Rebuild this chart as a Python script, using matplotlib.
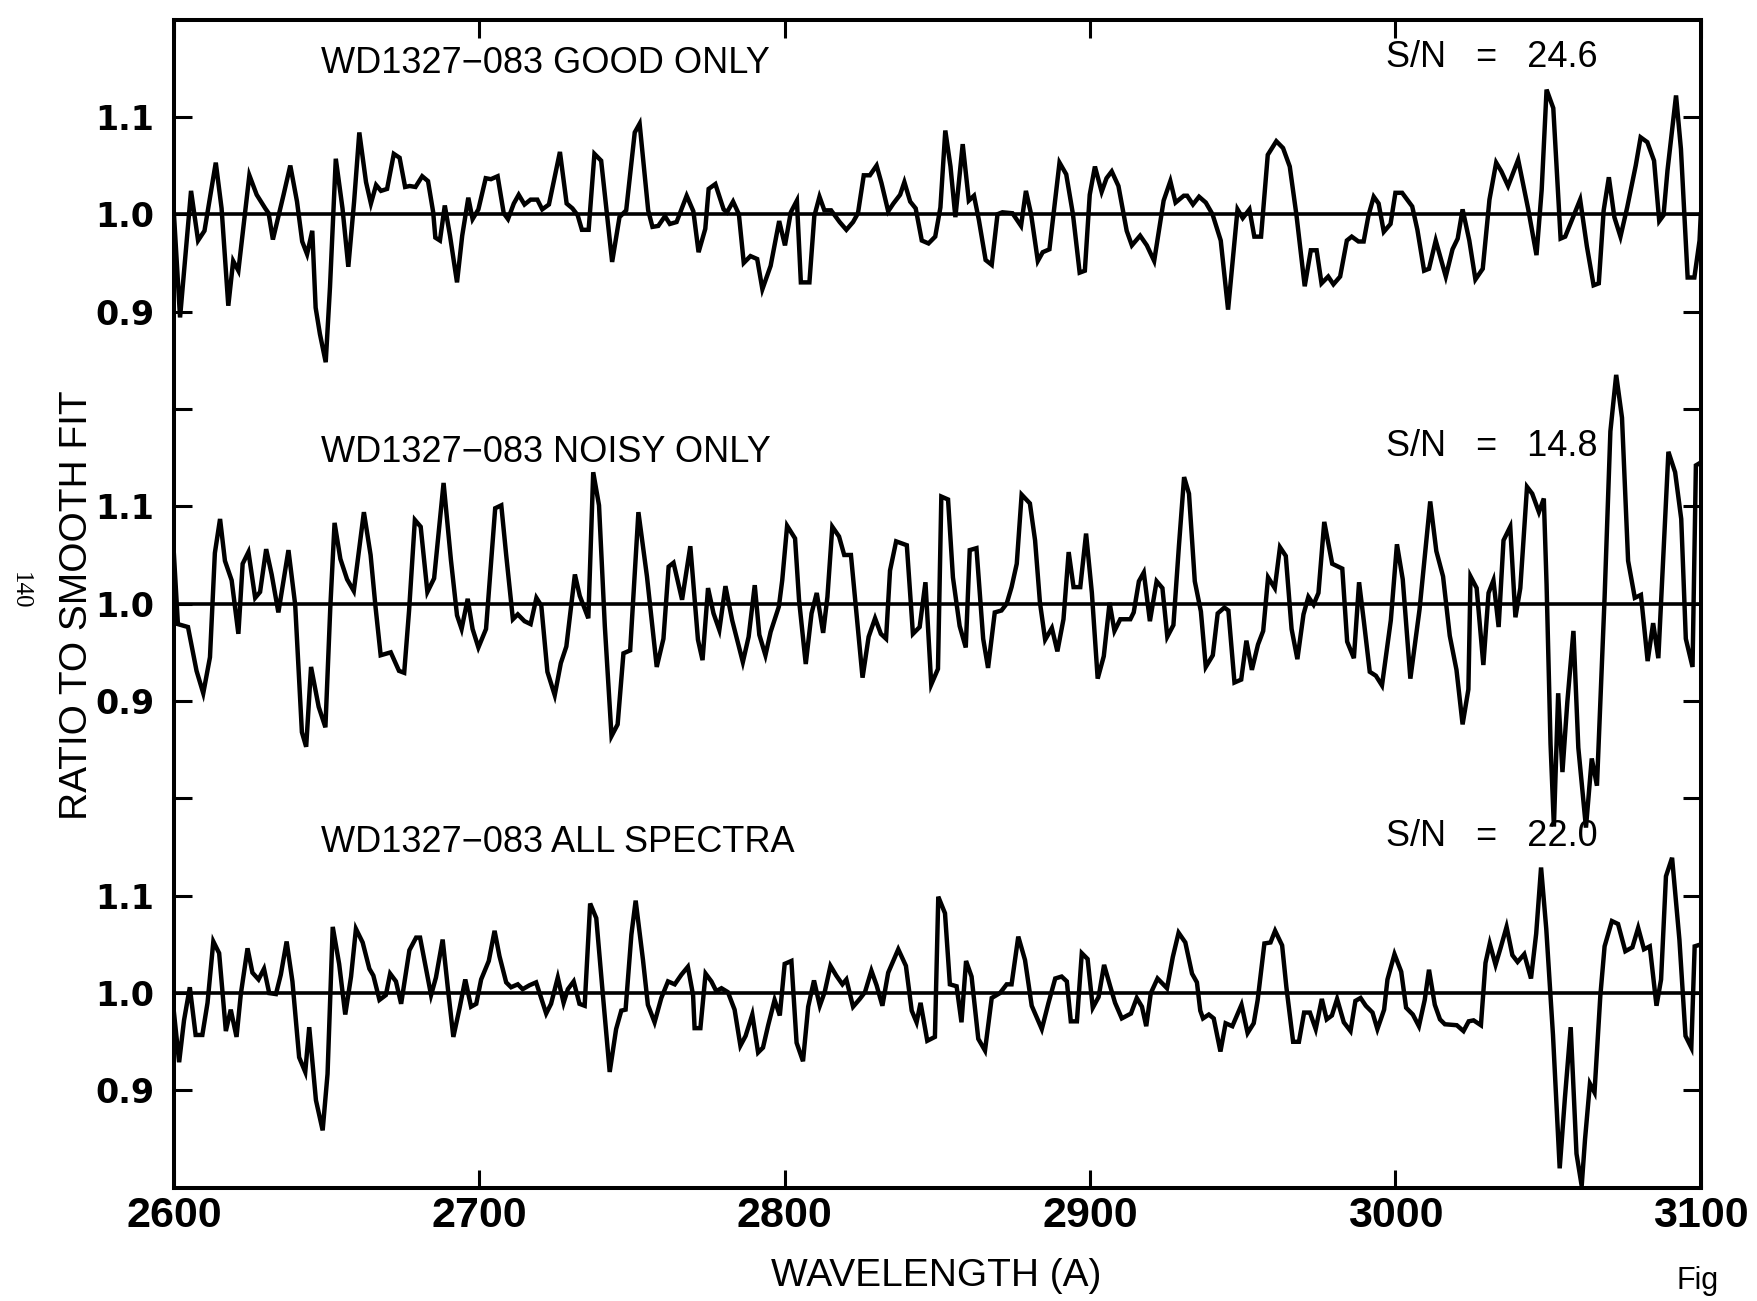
import matplotlib
matplotlib.use("Agg")
import matplotlib.pyplot as plt

# ---------------------------------------------------------------------------
#  Dados (comprimento de onda em A, razão ao ajuste suave)
# ---------------------------------------------------------------------------
wl_good = [
    2600.0, 2602.0, 2605.6, 2607.9, 2610.0, 2613.7, 2615.6, 2617.8, 2619.4, 2621.1,
    2624.7, 2627.1, 2629.9, 2631.0, 2632.4, 2634.3, 2635.9, 2638.1, 2640.3, 2642.0,
    2643.6, 2645.3, 2646.4, 2647.8, 2649.7, 2651.1, 2653.0, 2655.2, 2657.1, 2659.0,
    2660.7, 2662.9, 2664.5, 2666.2, 2667.8, 2669.8, 2672.0, 2673.9, 2675.7, 2677.2,
    2679.1, 2681.3, 2683.2, 2684.9, 2685.6, 2687.1, 2688.7, 2690.4, 2692.7, 2694.4,
    2696.4, 2697.8, 2699.7, 2702.1, 2703.8, 2706.0, 2708.0, 2709.4, 2711.3, 2712.9,
    2714.8, 2716.8, 2719.0, 2720.6, 2722.8, 2726.4, 2728.6, 2730.5, 2732.2, 2733.6,
    2735.8, 2737.7, 2739.9, 2743.5, 2745.9, 2748.1, 2750.9, 2752.5, 2755.3, 2756.7,
    2758.6, 2760.8, 2762.4, 2764.6, 2767.9, 2770.1, 2771.8,
    2774.0, 2775.1, 2777.3, 2780.0, 2781.1, 2783.1, 2785.0, 2786.6, 2788.8, 2791.0,
    2792.7, 2795.4, 2798.2, 2800.1, 2802.0, 2804.0, 2805.3, 2808.1, 2809.7, 2811.4,
    2813.0, 2815.2, 2818.0, 2820.2, 2822.4, 2824.0, 2825.9, 2827.9, 2830.1, 2831.7,
    2833.9, 2835.6, 2837.8, 2839.2, 2841.1, 2842.9, 2844.9, 2847.1, 2849.3, 2851.0,
    2852.6, 2854.3, 2855.9, 2858.3, 2860.3, 2862.0, 2863.6, 2865.8, 2867.8, 2869.7,
    2871.3, 2874.6, 2877.4, 2879.0, 2880.7, 2882.9, 2884.5, 2886.7, 2890.0, 2892.2,
    2894.4, 2896.6, 2898.3, 2899.9, 2901.6, 2903.8, 2905.4, 2907.1, 2909.3, 2912.0,
    2913.7, 2916.4, 2918.6, 2921.0, 2924.1, 2926.3, 2928.0, 2930.7, 2931.8, 2933.7,
    2935.7, 2937.9, 2940.1,
    2942.8, 2945.2, 2948.3, 2950.0, 2952.2, 2953.8, 2956.0, 2958.2, 2961.0, 2963.2,
    2965.4, 2967.6, 2970.3, 2972.3, 2974.2, 2975.8, 2978.0, 2979.7, 2981.9, 2984.1,
    2985.7, 2987.9, 2989.6, 2991.2, 2992.9, 2994.5, 2996.2, 2998.4, 3000.0, 3002.2,
    3005.5, 3007.2, 3009.4, 3011.0, 3013.2, 3016.5, 3018.7, 3020.4, 3022.0, 3024.2,
    3026.2, 3028.6, 3030.8, 3033.0, 3034.7, 3036.9, 3040.2, 3043.5, 3046.2, 3047.9,
    3049.5, 3051.7, 3054.1, 3055.6, 3057.8, 3060.5, 3062.7, 3064.9, 3066.6, 3068.2,
    3069.9, 3071.7, 3073.7, 3075.9, 3078.7, 3080.3, 3082.5, 3084.7, 3086.4, 3087.8,
    3089.1, 3091.9, 3093.5, 3095.7, 3097.9, 3099.6, 3100.0,
]
ratio_good = [
    1.000, 0.894, 1.024, 0.973, 0.983, 1.053, 1.006, 0.906, 0.952, 0.942,
    1.040, 1.020, 1.006, 1.001, 0.974, 0.999, 1.020, 1.050, 1.013, 0.972,
    0.959, 0.983, 0.904, 0.877, 0.848, 0.925, 1.057, 1.006, 0.946, 1.013,
    1.084, 1.033, 1.011, 1.030, 1.024, 1.026, 1.062, 1.058, 1.028, 1.029,
    1.028, 1.039, 1.034, 1.002, 0.976, 0.973, 1.009, 0.978, 0.930, 0.978,
    1.017, 0.995, 1.005, 1.037, 1.036, 1.039, 1.001, 0.995, 1.011, 1.020,
    1.010, 1.015, 1.015, 1.005, 1.010, 1.064, 1.011, 1.006, 0.999, 0.984,
    0.984, 1.062, 1.055, 0.951, 0.997, 1.004, 1.084, 1.093, 1.004, 0.987,
    0.988, 0.998, 0.990, 0.992, 1.019, 1.003, 0.961,
    0.985, 1.026, 1.031, 1.005, 1.002, 1.013, 1.000, 0.950, 0.957, 0.954,
    0.923, 0.947, 0.993, 0.968, 1.002, 1.014, 0.930, 0.930, 0.998, 1.018,
    1.004, 1.004, 0.992, 0.984, 0.992, 1.001, 1.040, 1.040, 1.050, 1.032,
    1.003, 1.011, 1.020, 1.033, 1.013, 1.006, 0.973, 0.970, 0.977, 1.007,
    1.086, 1.049, 0.997, 1.072, 1.014, 1.019, 0.994, 0.953, 0.948, 1.000,
    1.002, 1.001, 0.988, 1.024, 1.000, 0.952, 0.961, 0.964, 1.053, 1.041,
    1.000, 0.940, 0.942, 1.020, 1.049, 1.023, 1.037, 1.044, 1.029, 0.983,
    0.968, 0.978, 0.968, 0.952, 1.014, 1.034, 1.012, 1.019, 1.019, 1.010,
    1.018, 1.012, 1.000,
    0.973, 0.902, 1.005, 0.996, 1.005, 0.977, 0.977, 1.061, 1.075, 1.068,
    1.049, 0.999, 0.926, 0.963, 0.963, 0.929, 0.936, 0.928, 0.936, 0.973,
    0.977, 0.972, 0.972, 0.999, 1.018, 1.011, 0.982, 0.990, 1.022, 1.022,
    1.008, 0.984, 0.942, 0.944, 0.973, 0.936, 0.964, 0.975, 1.005, 0.973,
    0.933, 0.944, 1.015, 1.053, 1.044, 1.029, 1.056, 1.005, 0.958, 1.025,
    1.128, 1.109, 0.975, 0.977, 0.994, 1.015, 0.967, 0.927, 0.929, 1.004,
    1.038, 0.997, 0.977, 1.007, 1.050, 1.079, 1.074, 1.055, 0.993, 0.999,
    1.045, 1.122, 1.067, 0.935, 0.935, 0.973, 1.000,
]

wl_noisy = [
    2600.0, 2601.3, 2604.6, 2607.4, 2609.6, 2611.8, 2613.4, 2615.1, 2616.7, 2618.9,
    2621.1, 2622.5, 2624.4, 2626.6, 2628.2, 2630.2, 2632.0, 2634.2, 2637.5, 2639.7,
    2641.9, 2643.3, 2644.9, 2647.4, 2649.6, 2651.2, 2652.6, 2654.5, 2656.7, 2658.9,
    2662.2, 2664.4, 2666.0, 2667.7, 2671.0, 2673.7, 2675.4, 2677.0, 2678.9, 2680.8,
    2683.0, 2685.2, 2688.3, 2690.7, 2692.7, 2694.2, 2696.2, 2697.8, 2699.7, 2702.2,
    2705.2, 2707.2, 2708.8, 2711.0, 2712.6, 2714.8, 2716.8, 2718.7, 2720.3, 2722.3,
    2724.7, 2726.7, 2728.5, 2731.3, 2732.9, 2735.7, 2737.3, 2739.2, 2741.1, 2743.3,
    2745.3, 2747.2, 2749.4, 2752.1, 2754.9, 2758.1, 2760.3, 2762.0, 2763.6, 2766.4,
    2769.1, 2770.8,
    2771.6, 2773.1, 2774.9, 2776.7, 2778.6, 2780.6, 2782.8, 2786.3, 2788.2, 2790.2,
    2791.7, 2793.7, 2795.4, 2798.1, 2799.2, 2800.8, 2803.4, 2804.7, 2806.9, 2808.8,
    2810.5, 2812.6, 2814.0, 2815.6, 2817.8, 2819.5, 2821.7, 2823.3, 2825.5, 2827.5,
    2829.6, 2831.5, 2833.2, 2834.5, 2836.5, 2840.0, 2842.0, 2844.2, 2846.1, 2848.0,
    2850.2, 2851.3, 2853.5, 2855.1, 2857.3, 2859.3, 2860.6, 2862.8, 2865.0, 2866.6,
    2868.8, 2871.0, 2872.7, 2874.3, 2876.0, 2877.6, 2880.3, 2882.0, 2883.6, 2885.3,
    2887.5, 2889.3, 2891.3, 2893.0, 2894.6, 2896.8, 2898.7, 2900.6, 2902.5, 2904.5,
    2906.4, 2908.0, 2909.9, 2913.2, 2914.3, 2916.0, 2917.6, 2919.6, 2921.8, 2923.7,
    2925.3, 2927.3, 2929.1, 2930.8, 2932.4, 2934.3, 2936.3, 2937.9,
    2940.2, 2941.8, 2944.0, 2945.3, 2947.3, 2949.5, 2951.2, 2953.0, 2955.0, 2956.7,
    2958.3, 2960.5, 2962.2, 2964.1, 2966.0, 2967.9, 2969.9, 2971.5, 2973.2, 2974.8,
    2976.7, 2979.3, 2982.6, 2984.2, 2986.4, 2988.1, 2989.7, 2991.6, 2993.6, 2995.6,
    2998.5, 3000.5, 3002.4, 3004.9, 3007.9, 3011.4, 3013.4, 3015.6, 3017.8, 3020.0,
    3022.0, 3023.9, 3024.6, 3026.6, 3028.8, 3030.5, 3032.1, 3033.8, 3035.4, 3037.6,
    3039.3, 3040.9, 3043.1, 3044.8, 3047.0, 3048.6, 3049.5, 3050.8, 3051.9, 3053.3,
    3054.7, 3056.3, 3058.3, 3059.9, 3062.4, 3064.3, 3066.0, 3068.5, 3070.4, 3072.3,
    3074.2, 3076.2, 3078.4, 3080.4, 3082.6, 3084.4, 3086.1, 3089.4, 3091.6, 3093.6,
    3095.1, 3097.3, 3098.4, 3100.0,
]
ratio_noisy = [
    1.050, 0.979, 0.976, 0.931, 0.908, 0.945, 1.052, 1.087, 1.044, 1.024,
    0.969, 1.041, 1.053, 1.006, 1.012, 1.056, 1.030, 0.991, 1.055, 0.999,
    0.868, 0.853, 0.935, 0.894, 0.873, 0.996, 1.083, 1.046, 1.025, 1.013,
    1.094, 1.050, 0.997, 0.947, 0.950, 0.931, 0.929, 0.993, 1.086, 1.079,
    1.012, 1.026, 1.124, 1.045, 0.988, 0.974, 1.005, 0.974, 0.955, 0.974,
    1.098, 1.101, 1.050, 0.984, 0.989, 0.982, 0.979, 1.006, 0.998, 0.930,
    0.906, 0.939, 0.956, 1.030, 1.008, 0.985, 1.135, 1.101, 0.977, 0.864,
    0.876, 0.949, 0.952, 1.094, 1.028, 0.935, 0.964, 1.038, 1.042, 1.004,
    1.059, 0.993,
    0.963, 0.942, 1.016, 0.990, 0.973, 1.018, 0.983, 0.940, 0.966, 1.019,
    0.968, 0.947, 0.971, 0.997, 1.024, 1.080, 1.067, 1.004, 0.938, 0.990,
    1.011, 0.970, 1.007, 1.079, 1.069, 1.050, 1.050, 0.997, 0.924, 0.966,
    0.985, 0.969, 0.964, 1.034, 1.064, 1.060, 0.969, 0.976, 1.022, 0.917,
    0.933, 1.110, 1.107, 1.027, 0.977, 0.955, 1.055, 1.057, 0.964, 0.934,
    0.991, 0.993, 1.000, 1.017, 1.041, 1.112, 1.103, 1.065, 1.001, 0.963,
    0.975, 0.951, 0.984, 1.053, 1.017, 1.017, 1.072, 1.011, 0.923, 0.946,
    1.001, 0.972, 0.984, 0.984, 0.991, 1.023, 1.032, 0.982, 1.023, 1.016,
    0.966, 0.978, 1.059, 1.130, 1.113, 1.023, 0.992, 0.935,
    0.947, 0.990, 0.996, 0.993, 0.919, 0.922, 0.962, 0.932, 0.958, 0.972,
    1.027, 1.016, 1.058, 1.049, 0.974, 0.943, 0.989, 1.007, 0.999, 1.011,
    1.084, 1.041, 1.036, 0.961, 0.944, 1.022, 0.981, 0.930, 0.926, 0.916,
    0.983, 1.061, 1.025, 0.923, 0.994, 1.105, 1.054, 1.028, 0.967, 0.932,
    0.876, 0.912, 1.028, 1.016, 0.937, 1.011, 1.024, 0.976, 1.065, 1.079,
    0.986, 1.016, 1.120, 1.113, 1.094, 1.108, 1.020, 0.856, 0.771, 0.908,
    0.827, 0.899, 0.972, 0.852, 0.770, 0.841, 0.813, 1.006, 1.177, 1.235,
    1.191, 1.044, 1.006, 1.009, 0.941, 0.980, 0.944, 1.156, 1.135, 1.087,
    0.964, 0.935, 1.142, 1.145,
]

wl_all = [
    2600.0, 2601.7, 2603.3, 2605.2, 2607.1, 2609.3, 2611.0, 2612.9, 2614.8, 2617.0,
    2618.6, 2620.5, 2621.9, 2624.1, 2625.7, 2627.7, 2629.5, 2631.2, 2633.4, 2635.0,
    2636.9, 2638.8, 2641.0, 2643.0, 2644.3, 2646.5, 2648.7, 2650.3, 2652.0, 2654.1,
    2656.1, 2658.0, 2659.6, 2661.8, 2664.0, 2665.3, 2667.3, 2669.4, 2670.8, 2672.7,
    2674.4, 2677.1, 2679.3, 2680.6, 2684.2, 2685.8, 2688.0, 2689.7, 2691.5, 2693.5,
    2695.4, 2697.3, 2699.0, 2700.6, 2703.1, 2705.0, 2706.6, 2708.8, 2710.4, 2712.6,
    2714.2, 2716.4, 2718.6, 2721.9, 2723.5, 2725.7, 2727.6, 2729.0, 2730.9, 2732.8,
    2734.5, 2736.3, 2738.3, 2740.5, 2742.7, 2744.8, 2746.5, 2747.9, 2749.8, 2751.2,
    2753.6, 2755.2, 2757.4, 2759.6, 2761.8, 2764.0, 2766.2, 2768.3,
    2770.0, 2770.5, 2772.4, 2774.1, 2776.0, 2777.6, 2779.3, 2781.4, 2783.6, 2785.5,
    2787.2, 2789.4, 2791.3, 2792.9, 2794.6, 2796.7, 2798.4, 2800.0, 2802.2, 2803.9,
    2806.0, 2807.7, 2809.6, 2811.5, 2813.1, 2815.0, 2816.9, 2818.9, 2820.2, 2822.4,
    2824.6, 2826.3, 2828.4, 2830.1, 2832.0, 2833.9, 2837.2, 2839.7, 2841.6, 2843.2,
    2844.5, 2846.7, 2849.2, 2850.3, 2852.5, 2854.1, 2856.3, 2857.9, 2859.4, 2861.2,
    2863.4, 2865.6, 2867.8, 2870.5, 2872.7, 2874.3, 2876.5, 2878.7, 2880.9, 2884.2,
    2886.4, 2888.6, 2890.7, 2892.4, 2893.7, 2895.7, 2897.3, 2899.2, 2900.9, 2902.8,
    2904.6, 2906.6, 2908.2, 2910.4, 2913.4, 2915.3, 2917.0, 2918.4, 2919.9, 2922.1,
    2925.2, 2927.1, 2929.0, 2931.2, 2933.4, 2935.0, 2936.1,
    2937.0, 2938.9, 2940.5, 2942.7, 2944.4, 2946.6, 2949.6, 2951.6, 2953.6, 2954.9,
    2957.1, 2959.1, 2960.6, 2962.9, 2964.3, 2966.5, 2968.4, 2970.1, 2972.0, 2973.9,
    2975.9, 2977.5, 2979.2, 2980.9, 2983.1, 2985.3, 2986.9, 2988.6, 2990.3, 2992.5,
    2994.1, 2996.3, 2997.4, 2999.7, 3001.9, 3003.5, 3005.7, 3007.7, 3009.6, 3011.0,
    3012.9, 3014.6, 3016.2, 3020.1, 3022.3, 3024.0, 3025.6, 3028.0, 3029.5, 3030.9,
    3032.8, 3034.5, 3036.4, 3038.3, 3040.0, 3042.2, 3044.4, 3046.1, 3047.7, 3049.4,
    3051.6, 3053.8, 3055.5, 3057.4, 3059.3, 3061.0, 3062.1, 3063.7, 3065.2, 3067.1,
    3068.5, 3070.9, 3072.9, 3075.3, 3077.6, 3079.5, 3081.4, 3083.3, 3085.5, 3087.0,
    3088.6, 3090.6, 3093.0, 3095.0, 3096.9, 3098.0, 3100.0,
]
ratio_all = [
    0.980, 0.929, 0.972, 1.006, 0.957, 0.957, 0.990, 1.053, 1.041, 0.961,
    0.983, 0.955, 0.999, 1.046, 1.021, 1.014, 1.025, 1.000, 0.999, 1.019,
    1.053, 1.012, 0.934, 0.919, 0.965, 0.890, 0.859, 0.917, 1.068, 1.030,
    0.978, 1.017, 1.066, 1.052, 1.025, 1.018, 0.993, 0.998, 1.020, 1.012,
    0.989, 1.044, 1.057, 1.057, 0.998, 1.016, 1.055, 1.005, 0.955, 0.984,
    1.014, 0.986, 0.989, 1.014, 1.033, 1.064, 1.038, 1.011, 1.006, 1.009,
    1.004, 1.008, 1.011, 0.979, 0.989, 1.016, 0.990, 1.004, 1.012, 0.989,
    0.987, 1.092, 1.077, 0.997, 0.919, 0.963, 0.982, 0.983, 1.060, 1.095,
    1.034, 0.988, 0.970, 0.995, 1.012, 1.009, 1.019, 1.027,
    0.998, 0.964, 0.964, 1.020, 1.012, 1.002, 1.005, 1.001, 0.983, 0.946,
    0.956, 0.978, 0.939, 0.944, 0.967, 0.993, 0.977, 1.030, 1.033, 0.949,
    0.930, 0.986, 1.013, 0.987, 1.001, 1.028, 1.018, 1.009, 1.014, 0.986,
    0.994, 1.001, 1.023, 1.008, 0.987, 1.021, 1.045, 1.028, 0.982, 0.970,
    0.990, 0.951, 0.955, 1.099, 1.082, 1.009, 1.007, 0.970, 1.033, 1.017,
    0.953, 0.941, 0.995, 1.000, 1.009, 1.009, 1.058, 1.034, 0.987, 0.963,
    0.990, 1.015, 1.017, 1.012, 0.971, 0.971, 1.041, 1.035, 0.985, 0.996,
    1.029, 1.007, 0.990, 0.974, 0.979, 0.995, 0.986, 0.966, 1.000, 1.015,
    1.005, 1.037, 1.062, 1.052, 1.020, 1.011, 0.982,
    0.974, 0.978, 0.974, 0.940, 0.969, 0.966, 0.988, 0.959, 0.969, 0.993,
    1.051, 1.052, 1.064, 1.049, 1.006, 0.950, 0.950, 0.980, 0.980, 0.963,
    0.994, 0.973, 0.977, 0.994, 0.970, 0.961, 0.992, 0.995, 0.987, 0.980,
    0.963, 0.983, 1.014, 1.040, 1.022, 0.985, 0.978, 0.966, 0.993, 1.024,
    0.988, 0.973, 0.968, 0.967, 0.961, 0.971, 0.972, 0.967, 1.031, 1.051,
    1.029, 1.047, 1.068, 1.039, 1.032, 1.040, 1.015, 1.061, 1.129, 1.066,
    0.957, 0.820, 0.892, 0.965, 0.835, 0.802, 0.850, 0.907, 0.898, 0.997,
    1.048, 1.074, 1.071, 1.043, 1.047, 1.067, 1.045, 1.048, 0.987, 1.014,
    1.120, 1.139, 1.055, 0.956, 0.944, 1.048, 1.050,
]

panel_names = ["WD1327\u2212083 GOOD ONLY", "WD1327\u2212083 NOISY ONLY", "WD1327\u2212083 ALL SPECTRA"]
sn_values = ["24.6", "14.8", "22.0"]
ytick_labels = ["0.9", "1.0", "1.1"]
xticks = [2600, 2700, 2800, 2900, 3000, 3100]

# ---------------------------------------------------------------------------
#  Estilo
# ---------------------------------------------------------------------------
SANS = ["Liberation Sans", "DejaVu Sans"]
plt.rcParams.update({
    "font.family": SANS,
    "axes.linewidth": 2.9,
})

fig = plt.figure(figsize=(17.57, 13.01), dpi=100)
ax = fig.add_axes([0.099, 0.087, 0.869, 0.898])

# deslocamento vertical de cada painel (todos no mesmo eixo)
series = [(wl_good, ratio_good, 0.8), (wl_noisy, ratio_noisy, 0.4), (wl_all, ratio_all, 0.0)]

for (wl, ratio, off), nome, sn in zip(series, panel_names, sn_values):
    ax.plot(wl, [r + off for r in ratio], color="black", lw=3.2, solid_joinstyle="miter")
    ax.axhline(1.0 + off, color="black", lw=2.6)
    ax.text(2648, 1.155 + off, nome, fontsize=26, va="center", ha="left")
    ax.text(2997, 1.161 + off, f"S/N   =   {sn}", fontsize=26, va="center", ha="left")

ax.set_xlim(2600, 3100)
ax.set_ylim(0.8, 2.0)

# eixos y: marcas a cada 0.1, rótulos só em 0.9/1.0/1.1 de cada painel
yt = [round(0.9 + 0.1 * i, 1) for i in range(11)]
ylab = []
for v in yt:
    if abs(v - 1.2) < 1e-6 or abs(v - 1.6) < 1e-6:
        ylab.append("")
    else:
        ylab.append(ytick_labels[int(round((v - 0.9) * 10)) % 4])
ax.set_yticks(yt)
ax.set_yticklabels(ylab, fontsize=24, fontweight="bold", family="DejaVu Sans")
ax.set_xticks(xticks)
ax.set_xticklabels([str(x) for x in xticks], fontsize=31, fontweight="bold", family=SANS)

ax.tick_params(axis="both", direction="in", length=13, width=2.2,
               top=True, right=True)
ax.tick_params(axis="x", pad=6)
ax.tick_params(axis="y", pad=14)

fig.text(0.533, 0.019, "WAVELENGTH (A)", fontsize=28, ha="center", va="center")
fig.text(0.044, 0.535, "RATIO TO SMOOTH FIT", fontsize=28,
         rotation=90, ha="center", va="center")
fig.text(0.0114, 0.546, "140", fontsize=18, family="Liberation Serif",
         rotation=-90, ha="center", va="center")
fig.text(0.954, 0.004, "Fig", fontsize=22, ha="left", va="bottom", color="black")

fig.savefig("out.png", dpi=100)
